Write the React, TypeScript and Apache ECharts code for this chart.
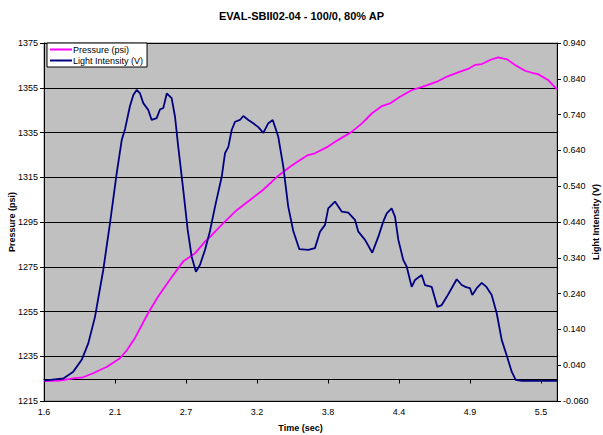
import React, { useEffect, useRef } from "react";
import * as echarts from "echarts";

const titleText = "EVAL-SBII02-04 - 100/0, 80% AP";

const xTickValues = [1.6, 2.15, 2.7, 3.25, 3.8, 4.35, 4.9, 5.45];
const xTickLabels = ["1.6", "2.1", "2.7", "3.2", "3.8", "4.4", "4.9", "5.5"];
const rightTicks = [-0.06, 0.04, 0.14, 0.24, 0.34, 0.44, 0.54, 0.64, 0.74, 0.84, 0.94];

const pressureTime = [
  1.6, 1.724, 1.825, 1.902, 1.98, 2.088, 2.189, 2.243, 2.305, 2.406, 2.483, 2.592, 2.677,
  2.77, 2.847, 2.901, 2.987, 3.095, 3.196, 3.296, 3.405, 3.506, 3.56, 3.645, 3.699, 3.8,
  3.877, 3.986, 4.063, 4.141, 4.218, 4.28, 4.358, 4.451, 4.536, 4.644, 4.722, 4.823, 4.885,
  4.939, 4.993, 5.055, 5.117, 5.187, 5.249, 5.326, 5.38, 5.427, 5.504, 5.574,
];
const pressurePsi = [
  1223.9, 1224.1, 1225.1, 1225.6, 1227.4, 1230.3, 1234.1, 1237.8, 1243.2, 1254.2, 1261.6,
  1270.6, 1277.3, 1281.0, 1286.2, 1289.2, 1294.4, 1300.4, 1304.8, 1309.3, 1315.2, 1319.7,
  1321.8, 1324.9, 1325.7, 1328.7, 1331.6, 1335.4, 1339.1, 1343.6, 1346.8, 1348.0, 1351.0,
  1354.0, 1355.5, 1357.7, 1360.0, 1362.2, 1363.4, 1365.2, 1365.6, 1367.4, 1368.6, 1367.7,
  1365.2, 1362.6, 1361.7, 1361.1, 1358.5, 1354.3,
];

const lightTime = [
  1.6, 1.75, 1.827, 1.892, 1.943, 1.995, 2.059, 2.111, 2.163, 2.202, 2.228, 2.266, 2.292,
  2.318, 2.344, 2.369, 2.408, 2.434, 2.473, 2.499, 2.524, 2.551, 2.589, 2.615, 2.64, 2.679,
  2.713, 2.744, 2.777, 2.808, 2.847, 2.886, 2.925, 2.977, 3.002, 3.028, 3.054, 3.08, 3.118,
  3.144, 3.183, 3.221, 3.26, 3.299, 3.338, 3.372, 3.415, 3.454, 3.492, 3.531, 3.578, 3.647,
  3.699, 3.738, 3.777, 3.802, 3.854, 3.906, 3.957, 4.009, 4.035, 4.087, 4.143, 4.19, 4.228,
  4.255, 4.293, 4.319, 4.345, 4.383, 4.41, 4.448, 4.474, 4.526, 4.551, 4.603, 4.647, 4.681,
  4.72, 4.758, 4.797, 4.836, 4.869, 4.9, 4.918, 4.952, 4.991, 5.029, 5.068, 5.107, 5.146,
  5.184, 5.223, 5.254, 5.3, 5.574,
];
const lightVolts = [
  -0.003, 0.003, 0.022, 0.055, 0.101, 0.175, 0.306, 0.436, 0.576, 0.669, 0.7, 0.764, 0.795,
  0.809, 0.799, 0.772, 0.753, 0.725, 0.73, 0.755, 0.758, 0.799, 0.786, 0.734, 0.65, 0.529,
  0.418, 0.343, 0.301, 0.32, 0.362, 0.415, 0.483, 0.567, 0.632, 0.65, 0.697, 0.72, 0.725,
  0.736, 0.725, 0.716, 0.705, 0.689, 0.716, 0.725, 0.678, 0.594, 0.483, 0.415, 0.364, 0.362,
  0.367, 0.413, 0.432, 0.478, 0.497, 0.469, 0.466, 0.446, 0.413, 0.39, 0.354, 0.399, 0.441,
  0.464, 0.478, 0.455, 0.39, 0.334, 0.315, 0.259, 0.278, 0.292, 0.264, 0.259, 0.203, 0.208,
  0.231, 0.255, 0.28, 0.264, 0.258, 0.255, 0.236, 0.255, 0.27, 0.258, 0.236, 0.185, 0.11,
  0.068, 0.022, -0.001, -0.004, -0.004,
];

const FONT = "Liberation Sans, Arial, sans-serif";

export default function App() {
  const ref = useRef<HTMLDivElement>(null);
  useEffect(() => {
    if (!ref.current) return;
    const chart = echarts.init(ref.current, undefined, { renderer: "svg" });
    const pData = pressureTime.map((t, i) => [t, pressurePsi[i]]);
    const lData = lightTime.map((t, i) => [t, lightVolts[i]]);
    chart.setOption({
      animation: false,
      backgroundColor: "#ffffff",
      textStyle: { fontFamily: FONT },
      title: {
        text: titleText,
        left: "center",
        top: 5,
        textStyle: { fontSize: 11, fontWeight: "bold", color: "#000", fontFamily: FONT },
      },
      legend: {
        orient: "vertical",
        left: 47,
        top: 43,
        backgroundColor: "#ffffff",
        borderColor: "#000",
        borderWidth: 1,
        borderRadius: 0,
        padding: [2, 4, 2, 3],
        itemGap: 2,
        itemWidth: 22,
        itemHeight: 2,
        icon: "rect",
        textStyle: { fontSize: 9, color: "#000", fontFamily: FONT, padding: [0, 0, 0, -4] },
        data: ["Pressure (psi)", "Light Intensity (V)"],
      },
      grid: {
        left: 44,
        right: 46,
        top: 43,
        bottom: 34,
        outerBoundsMode: "none",
        containLabel: false,
        show: true,
        backgroundColor: "#c0c0c0",
        borderColor: "#808080",
        borderWidth: 1,
      },
      xAxis: {
        type: "value",
        min: 1.6,
        max: 5.574,
        name: "Time (sec)",
        nameLocation: "middle",
        nameGap: 22,
        nameMoveOverlap: false,
        nameTextStyle: { fontSize: 9, fontWeight: "bold", color: "#000", fontFamily: FONT },
        axisLine: { show: true, lineStyle: { color: "#000", width: 1 } },
        axisTick: { show: true, customValues: xTickValues, length: 4, lineStyle: { color: "#000" } },
        axisLabel: {
          customValues: xTickValues,
          fontSize: 9,
          color: "#000",
          margin: 6,
          formatter: (v: number) => {
            let best = 0;
            xTickValues.forEach((tv, i) => {
              if (Math.abs(tv - v) < Math.abs(xTickValues[best] - v)) best = i;
            });
            return xTickLabels[best];
          },
        },
        splitLine: { show: false },
      },
      yAxis: [
        {
          type: "value",
          min: 1215,
          max: 1375,
          interval: 20,
          name: "Pressure (psi)",
          nameLocation: "middle",
          nameRotate: 90,
          nameGap: 28,
          nameMoveOverlap: false,
          nameTextStyle: { fontSize: 9, fontWeight: "bold", color: "#000", fontFamily: FONT },
          axisLine: { show: true, lineStyle: { color: "#000", width: 1 } },
          axisTick: { show: true, length: 4, lineStyle: { color: "#000" } },
          axisLabel: {
            fontSize: 9,
            color: "#000",
            margin: 6,
            formatter: (v: number) => String(Math.round(v)),
          },
          splitLine: { show: true, lineStyle: { color: "#000", width: 1 } },
        },
        {
          type: "value",
          min: -0.06,
          max: 0.94,
          name: "Light Intensity (V)",
          nameLocation: "middle",
          nameRotate: 90,
          nameGap: 34,
          nameMoveOverlap: false,
          nameTextStyle: { fontSize: 9, fontWeight: "bold", color: "#000", fontFamily: FONT },
          axisLine: { show: true, lineStyle: { color: "#000", width: 1 } },
          axisTick: { show: true, customValues: rightTicks, length: 4, lineStyle: { color: "#000" } },
          axisLabel: {
            customValues: rightTicks,
            fontSize: 9,
            color: "#000",
            margin: 6,
            formatter: (v: number) => v.toFixed(3),
          },
          splitLine: { show: false },
        },
      ],
      series: [
        {
          name: "Pressure (psi)",
          type: "line",
          yAxisIndex: 0,
          data: pData,
          showSymbol: false,
          symbol: "none",
          color: "#ff00ff",
          lineStyle: { color: "#ff00ff", width: 1.8 },
        },
        {
          name: "Light Intensity (V)",
          type: "line",
          yAxisIndex: 1,
          data: lData,
          showSymbol: false,
          symbol: "none",
          color: "#000080",
          lineStyle: { color: "#000080", width: 1.8 },
        },
      ],
    });
    return () => chart.dispose();
  }, []);
  return (
    <div
      ref={ref}
      style={{ position: "fixed", left: 0, top: 0, width: 603, height: 435 }}
    />
  );
}
